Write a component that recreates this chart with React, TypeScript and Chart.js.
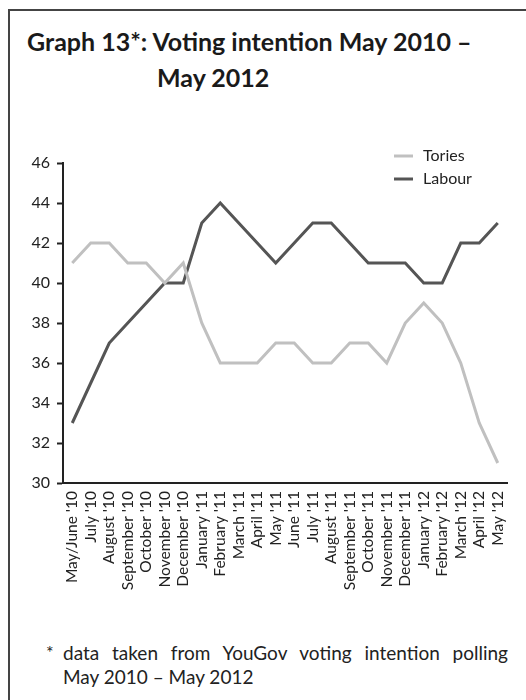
import React, { useEffect, useRef } from "react";
import { Chart, registerables } from "chart.js";

Chart.register(...registerables);

const categories = [
  "May/June '10", "July '10", "August '10", "September '10", "October '10", "November '10", "December '10",
  "January '11", "February '11", "March '11", "April '11", "May '11", "June '11", "July '11", "August '11",
  "September '11", "October '11", "November '11", "December '11",
  "January '12", "February '12", "March '12", "April '12", "May '12",
];
const tories = [41, 42, 42, 41, 41, 40, 41, 38, 36, 36, 36, 37, 37, 36, 36, 37, 37, 36, 38, 39, 38, 36, 33, 31];
const labour = [33, 35, 37, 38, 39, 40, 40, 43, 44, 43, 42, 41, 42, 43, 43, 42, 41, 41, 41, 40, 40, 42, 42, 43];
const seriesNames = ["Tories", "Labour"];
const yMin = 30;
const yMax = 46;
const yStep = 2;

const FONT = "Lato, 'Open Sans', sans-serif";

const legendPlugin = {
  id: "stackedLegend",
  afterDraw(chart: any) {
    const { ctx, chartArea } = chart;
    ctx.save();
    chart.data.datasets.forEach((ds: any, i: number) => {
      const y = chartArea.top - 7 + i * 23;
      const x0 = chartArea.right - 113;
      ctx.strokeStyle = ds.borderColor;
      ctx.lineWidth = 3;
      ctx.beginPath();
      ctx.moveTo(x0, y);
      ctx.lineTo(x0 + 19, y);
      ctx.stroke();
      ctx.fillStyle = "#222";
      ctx.font = "16px " + FONT;
      ctx.textBaseline = "middle";
      ctx.textAlign = "left";
      ctx.fillText(ds.label, x0 + 29, y);
    });
    ctx.restore();
  },
};

export default function App() {
  const ref = useRef<HTMLCanvasElement>(null);
  useEffect(() => {
    document.body.style.overflow = "hidden";
    if (!ref.current) return;
    const chart = new Chart(ref.current, {
      type: "line",
      data: {
        labels: categories,
        datasets: [
          { label: seriesNames[0], data: tories, borderColor: "#c0c0c0", borderWidth: 3, pointRadius: 0, tension: 0, fill: false },
          { label: seriesNames[1], data: labour, borderColor: "#555555", borderWidth: 3, pointRadius: 0, tension: 0, fill: false },
        ],
      },
      options: {
        animation: false,
        responsive: false,
        layout: { padding: { top: 33, right: 19, left: 0, bottom: 0 } },
        plugins: { legend: { display: false }, tooltip: { enabled: false }, title: { display: false } },
        scales: {
          x: {
            offset: true,
            grid: { display: false, drawTicks: false },
            border: { display: true, color: "#222", width: 2 },
            ticks: {
              autoSkip: false,
              maxRotation: 90,
              minRotation: 90,
              padding: 8,
              color: "#222",
              font: { family: FONT, size: 15.5 },
            },
            afterFit(scale: any) { scale.height = 127; },
          },
          y: {
            min: yMin,
            max: yMax,
            grid: { drawOnChartArea: false, drawTicks: true, tickLength: 6, tickColor: "#222", tickWidth: 2 },
            border: { display: true, color: "#222", width: 2 },
            ticks: { stepSize: yStep, padding: 7, color: "#222", font: { family: FONT, size: 16 } },
            afterFit(scale: any) { scale.width = 63; },
          },
        },
      },
      plugins: [legendPlugin],
    });
    return () => chart.destroy();
  }, []);

  return (
    <div style={{ position: "absolute", left: 0, top: 0, width: 526, height: 700, background: "#fff", overflow: "hidden" }}>
      <div style={{ position: "absolute", left: 8, top: 9, width: 530, height: 700, borderTop: "2px solid #444", borderLeft: "2px solid #444", boxSizing: "border-box" }} />
      <div style={{ position: "absolute", left: 27, top: 23, fontFamily: FONT, fontWeight: 700, fontSize: 25, color: "#1a1a1a", lineHeight: "36px", whiteSpace: "nowrap" }}>
        <div>Graph 13*: Voting intention May 2010 –</div>
        <div style={{ paddingLeft: 130 }}>May 2012</div>
      </div>
      <canvas ref={ref} width={526} height={480} style={{ position: "absolute", left: 0, top: 130, width: 526, height: 480 }} />
      <div style={{ position: "absolute", left: 46, top: 640, fontFamily: FONT, fontSize: 18, color: "#222", lineHeight: "24px" }}>*</div>
      <div style={{ position: "absolute", left: 63, top: 641, width: 445, fontFamily: FONT, fontSize: 19, color: "#222", lineHeight: "24px", whiteSpace: "nowrap" }}>
        <div style={{ textAlign: "justify", textAlignLast: "justify" as any, whiteSpace: "normal" }}>data taken from YouGov voting intention polling</div>
        <div>May 2010 – May 2012</div>
      </div>
    </div>
  );
}
